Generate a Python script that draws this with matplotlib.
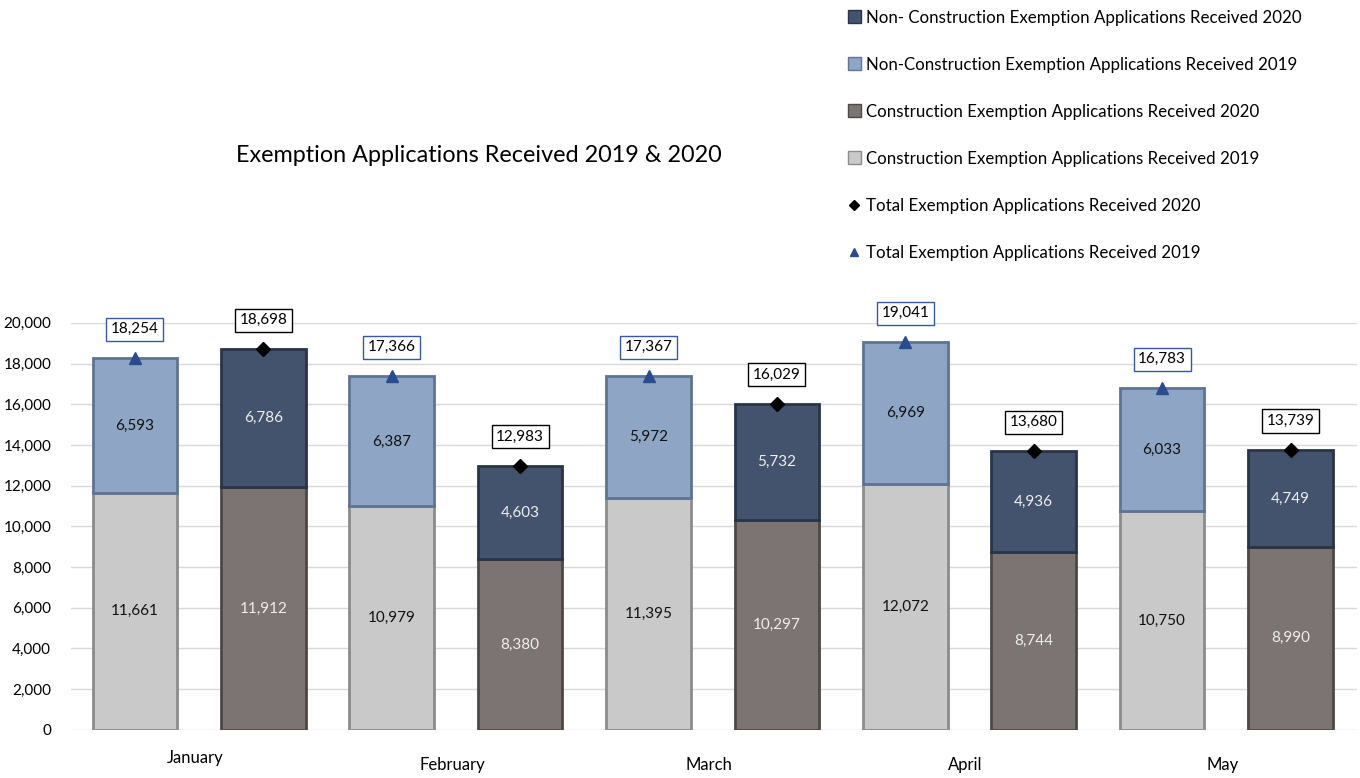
import matplotlib.pyplot as plt
import numpy as np
from matplotlib.lines import Line2D
from matplotlib.patches import Patch

plt.rcParams['font.family'] = ['Lato', 'DejaVu Sans']

months = ['January', 'February', 'March', 'April', 'May']
cons_2019 = [11661, 10979, 11395, 12072, 10750]
noncons_2019 = [6593, 6387, 5972, 6969, 6033]
total_2019 = [18254, 17366, 17367, 19041, 16783]
cons_2020 = [11912, 8380, 10297, 8744, 8990]
noncons_2020 = [6786, 4603, 5732, 4936, 4749]
total_2020 = [18698, 12983, 16029, 13680, 13739]

c_cons19 = '#c9c9c9'
c_cons20 = '#7b7472'
c_non19 = '#8fa5c6'
c_non20 = '#44536d'

fig = plt.figure(figsize=(13.6, 7.78), dpi=100)
ax = fig.add_axes([0.052, 0.062, 0.946, 0.523])

x19 = np.arange(len(months)) * 2
x20 = x19 + 1
w = 0.66

ax.bar(x19, cons_2019, w, color=c_cons19, edgecolor='#8c8c8c', linewidth=2, zorder=3)
ax.bar(x19, noncons_2019, w, bottom=cons_2019, color=c_non19, edgecolor='#5f7394', linewidth=2, zorder=3)
ax.bar(x20, cons_2020, w, color=c_cons20, edgecolor='#4d4846', linewidth=2, zorder=3)
ax.bar(x20, noncons_2020, w, bottom=cons_2020, color=c_non20, edgecolor='#2a3447', linewidth=2, zorder=3)

# segment labels
for i in range(len(months)):
    ax.text(x19[i], cons_2019[i] / 2, f'{cons_2019[i]:,}', ha='center', va='center', fontsize=11, color='#111111', zorder=5)
    ax.text(x19[i], cons_2019[i] + noncons_2019[i] / 2, f'{noncons_2019[i]:,}', ha='center', va='center', fontsize=11, color='#111111', zorder=5)
    ax.text(x20[i], cons_2020[i] / 2, f'{cons_2020[i]:,}', ha='center', va='center', fontsize=11, color='#eeeeee', zorder=5)
    ax.text(x20[i], cons_2020[i] + noncons_2020[i] / 2, f'{noncons_2020[i]:,}', ha='center', va='center', fontsize=11, color='#eeeeee', zorder=5)

# totals
ax.plot(x19, total_2019, linestyle='none', marker='^', color='#2a4b8d', markersize=8, zorder=6, clip_on=False)
ax.plot(x20, total_2020, linestyle='none', marker='D', color='black', markersize=7, zorder=6, clip_on=False)
for i in range(len(months)):
    ax.annotate(f'{total_2019[i]:,}', (x19[i], total_2019[i]), xytext=(0, 21), textcoords='offset points',
                ha='center', va='center', fontsize=11, zorder=7, annotation_clip=False,
                bbox=dict(boxstyle='square,pad=0.3', fc='white', ec='#3559a8', lw=1))
    ax.annotate(f'{total_2020[i]:,}', (x20[i], total_2020[i]), xytext=(0, 21), textcoords='offset points',
                ha='center', va='center', fontsize=11, zorder=7, annotation_clip=False,
                bbox=dict(boxstyle='square,pad=0.3', fc='white', ec='black', lw=1))

ax.set_xlim(-0.5, 9.52)
ax.set_ylim(0, 20000)
ax.set_yticks(range(0, 20001, 2000))
ax.set_yticklabels([f'{v:,}' for v in range(0, 20001, 2000)], fontsize=11)
ax.set_xticks([])
ax.tick_params(axis='y', length=0, pad=14)
ax.grid(axis='y', color='#d9d9d9', linewidth=1, zorder=0)
for s in ax.spines.values():
    s.set_visible(False)

# month labels between each pair of bars
for i, m in enumerate(months):
    ax.text(x19[i] + 0.47, -1400 if i == 0 else -1750, m, ha='center', va='center', fontsize=12)

fig.text(0.352, 0.8, 'Exemption Applications Received 2019 & 2020', ha='center', va='center', fontsize=16.8)

handles = [
    Patch(facecolor=c_non20, edgecolor='#2a3447'),
    Patch(facecolor=c_non19, edgecolor='#5f7394'),
    Patch(facecolor=c_cons20, edgecolor='#4d4846'),
    Patch(facecolor=c_cons19, edgecolor='#8c8c8c'),
    Line2D([], [], linestyle='none', marker='D', color='black', markersize=5),
    Line2D([], [], linestyle='none', marker='^', color='#2a4b8d', markersize=6),
]
labels = [
    'Non- Construction Exemption Applications Received 2020',
    'Non-Construction Exemption Applications Received 2019',
    'Construction Exemption Applications Received 2020',
    'Construction Exemption Applications Received 2019',
    'Total Exemption Applications Received 2020',
    'Total Exemption Applications Received 2019',
]
fig.legend(handles, labels, loc='upper left', bbox_to_anchor=(0.612, 1.007), frameon=False,
           fontsize=12.2, handlelength=0.8, handleheight=0.8, handletextpad=0.3, labelspacing=1.83)

fig.savefig('out.png', dpi=100)
